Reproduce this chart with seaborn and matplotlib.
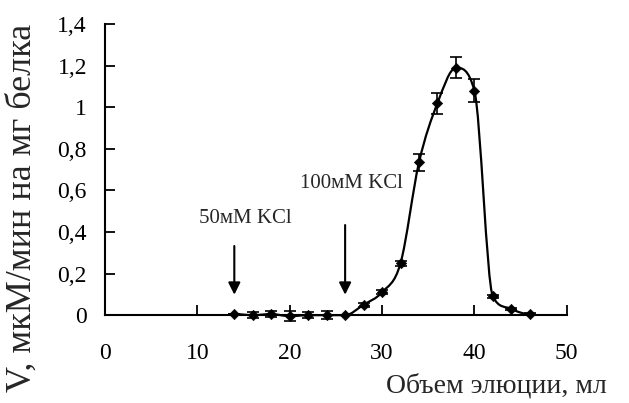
import matplotlib
matplotlib.use('Agg')
import matplotlib.pyplot as plt
import seaborn as sns
import numpy as np
from matplotlib.path import Path
from matplotlib.patches import PathPatch

# elution profile: volume (ml) vs activity
volume = [14, 16, 18, 20, 22, 24, 26, 28, 30, 32, 34, 36, 38, 40, 42, 44, 46]
activity = [0.005, 0.0, 0.005, -0.005, 0.0, 0.0, 0.0, 0.05, 0.11, 0.25, 0.735,
            1.02, 1.19, 1.08, 0.09, 0.03, 0.005]
errors = [0.0, 0.015, 0.015, 0.025, 0.015, 0.02, 0.0, 0.01, 0.01, 0.012, 0.04,
          0.05, 0.05, 0.055, 0.008, 0.005, 0.005]
y_ticks = [0, 0.2, 0.4, 0.6, 0.8, 1.0, 1.2, 1.4]
y_tick_labels = ['0', '0,2', '0,4', '0,6', '0,8', '1', '1,2', '1,4']
x_ticks = [0, 10, 20, 30, 40, 50]
steps = [(14, '50мМ KCl'), (26, '100мМ KCl')]

sns.set_style('ticks')
plt.rcParams['font.family'] = ['Liberation Serif', 'DejaVu Serif']

fig = plt.figure(figsize=(6.29, 4.03), dpi=100)
ax = fig.add_axes([0.167, 0.218, 0.734, 0.722])

# smoothed line through the points (bezier, tangents kept from overshooting)
x = np.array(volume, dtype=float)
y = np.array(activity, dtype=float)
n = len(x)
d = np.diff(y) / np.diff(x)
m = np.zeros(n)
for k in range(1, n - 1):
    if d[k - 1] * d[k] > 0:
        t = (y[k + 1] - y[k - 1]) / (x[k + 1] - x[k - 1])
        lim = 3 * min(abs(d[k - 1]), abs(d[k]))
        m[k] = np.sign(t) * min(abs(t), lim)
verts = [(x[0], y[0])]
codes = [Path.MOVETO]
for k in range(n - 1):
    h = x[k + 1] - x[k]
    verts += [(x[k] + h / 3, y[k] + m[k] * h / 3),
              (x[k + 1] - h / 3, y[k + 1] - m[k + 1] * h / 3),
              (x[k + 1], y[k + 1])]
    codes += [Path.CURVE4] * 3
ax.add_patch(PathPatch(Path(verts, codes), fill=False, ec='black', lw=1.6,
                       clip_on=False, zorder=3))

ax.errorbar(volume, activity, yerr=errors, fmt='none', ecolor='black',
            elinewidth=1.2, capsize=4, capthick=1.2, clip_on=False, zorder=4)
sns.scatterplot(x=volume, y=activity, marker='D', s=28, color='black',
                edgecolor='black', ax=ax, clip_on=False, zorder=5)

ax.set_xlim(0, 50)
ax.set_ylim(0, 1.4)
ax.set_xticks(x_ticks)
ax.set_yticks(y_ticks)
ax.set_yticklabels(y_tick_labels)
ax.tick_params(direction='in', length=7, width=1.3, labelsize=17, colors='black')
ax.tick_params(axis='x', pad=20)
ax.tick_params(axis='y', pad=13)
for side in ['left', 'bottom']:
    ax.spines[side].set_linewidth(1.5)
    ax.spines[side].set_color('black')
sns.despine(ax=ax)

ax.set_xlabel('Объем элюции, мл', fontsize=20, loc='right')
ax.xaxis.label.set_va('baseline')
ax.xaxis.set_label_coords(1.087, -0.265)
ax.set_ylabel('V, мкМ/мин на мг белка', fontsize=26)
ax.yaxis.set_label_coords(-0.143, 0.369)

text_y = [0.466, 0.635]
tail_y = [0.346, 0.447]
text_dx = [1.2, 0.7]
for (sx, label), ty, tl, dx in zip(steps, text_y, tail_y, text_dx):
    ax.annotate('', xy=(sx, 0.085), xytext=(sx, tl),
                arrowprops=dict(arrowstyle='-|>', color='black', lw=1.5,
                                mutation_scale=18))
    ax.text(sx + dx, ty, label, ha='center', va='center', fontsize=15)

fig.savefig('out.png', dpi=100)
